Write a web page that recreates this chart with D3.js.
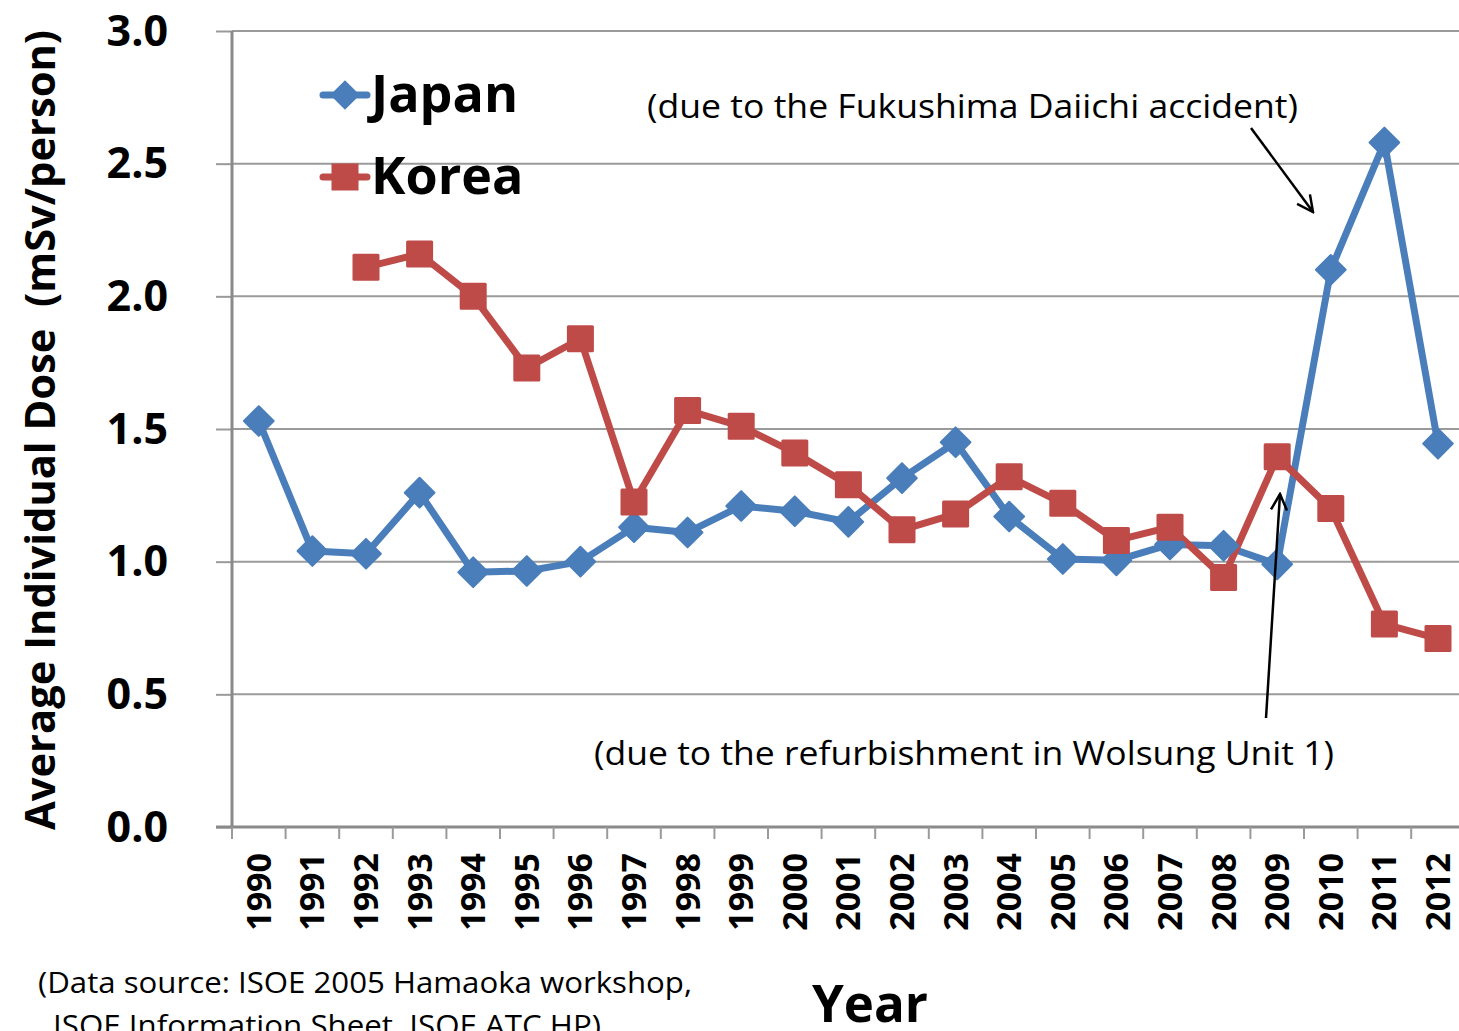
<!DOCTYPE html>
<html><head><meta charset="utf-8">
<script src="https://cdn.jsdelivr.net/npm/d3@7"></script>
<style>body{margin:0;background:#fff}svg{display:block}</style>
</head><body>
<svg id="c" width="1459" height="1031"></svg>
<script>
const years = ["1990","1991","1992","1993","1994","1995","1996","1997","1998","1999","2000","2001","2002","2003","2004","2005","2006","2007","2008","2009","2010","2011","2012"];
const japan = [1.53,1.04,1.03,1.26,0.96,0.965,1.0,1.13,1.11,1.21,1.19,1.15,1.315,1.45,1.17,1.01,1.005,1.065,1.06,0.99,2.10,2.58,1.445];
const korea = [null,null,2.11,2.16,2.00,1.73,1.84,1.225,1.57,1.51,1.41,1.29,1.12,1.18,1.32,1.22,1.08,1.13,0.94,1.395,1.20,0.765,0.71];
const yTicks = [0,0.5,1.0,1.5,2.0,2.5,3.0];
const seriesNames = ["Japan","Korea"];
const seriesColors = ["#4a7ebb","#be4b48"];

const FONT = "'Open Sans', sans-serif";
const svg = d3.select("#c");
const x = d3.scaleBand().domain(years).range([232, 232 + 23*53.6]).padding(0);
const y = d3.scaleLinear().domain([0,3]).range([827,31]);
const cx = d => x(d) + x.bandwidth()/2;

// gridlines
svg.append("g").selectAll("line").data(yTicks.filter(t=>t>0)).join("line")
  .attr("x1",232).attr("x2",1470).attr("y1",d=>y(d)).attr("y2",d=>y(d))
  .attr("stroke","#9a9a9a").attr("stroke-width",2);

// y axis
const ya = svg.append("g").attr("transform","translate(232,0)")
  .call(d3.axisLeft(y).tickValues(yTicks).tickFormat(d3.format(".1f")).tickSize(16).tickPadding(48));
ya.select(".domain").remove();
ya.selectAll(".tick line").attr("stroke","#9a9a9a").attr("stroke-width",2);
ya.selectAll(".tick text").attr("font-family",FONT).attr("font-weight","bold")
  .attr("font-size",43).attr("fill","#000").attr("dy","0.33em");
svg.append("line").attr("x1",232).attr("x2",232).attr("y1",31).attr("y2",828)
  .attr("stroke","#8a8a8a").attr("stroke-width",3);

// x axis line and ticks
svg.append("line").attr("x1",216).attr("x2",1470).attr("y1",827).attr("y2",827)
  .attr("stroke","#8a8a8a").attr("stroke-width",3);
const bounds = years.map(d=>x(d)).concat([x(years[years.length-1])+x.bandwidth()]);
svg.append("g").selectAll("line").data(bounds).join("line")
  .attr("x1",d=>d).attr("x2",d=>d).attr("y1",827).attr("y2",839)
  .attr("stroke","#9a9a9a").attr("stroke-width",2);
svg.append("g").selectAll("text").data(years).join("text")
  .attr("transform",d=>`translate(${cx(d)+12},853) rotate(-90)`)
  .attr("text-anchor","end").attr("font-family",FONT).attr("font-weight","bold")
  .attr("font-size",34).text(d=>d);

// lines
const line = d3.line().defined(d=>d.v!=null).x(d=>cx(d.year)).y(d=>y(d.v));
const data = [japan, korea].map(arr => years.map((yr,i)=>({year:yr, v:arr[i]})));
data.forEach((s,i)=>{
  svg.append("path").datum(s).attr("d",line).attr("fill","none")
    .attr("stroke",seriesColors[i]).attr("stroke-width",7).attr("stroke-linejoin","round");
});
// japan diamonds
svg.append("g").selectAll("path").data(data[0].filter(d=>d.v!=null)).join("path")
  .attr("transform",d=>`translate(${cx(d.year)},${y(d.v)}) rotate(45)`)
  .attr("d","M-10.5,-10.5H10.5V10.5H-10.5Z").attr("fill",seriesColors[0])
  .attr("stroke",seriesColors[0]).attr("stroke-width",2).attr("stroke-linejoin","round");
// korea squares
svg.append("g").selectAll("rect").data(data[1].filter(d=>d.v!=null)).join("rect")
  .attr("x",d=>cx(d.year)-13.5).attr("y",d=>y(d.v)-13.5).attr("width",27).attr("height",27)
  .attr("rx",1.5).attr("fill",seriesColors[1]);

// legend
const leg = svg.append("g");
[95,177].forEach((ly,i)=>{
  leg.append("line").attr("x1",323).attr("x2",367).attr("y1",ly).attr("y2",ly)
    .attr("stroke",seriesColors[i]).attr("stroke-width",7).attr("stroke-linecap","round");
  if(i===0){
    leg.append("path").attr("transform",`translate(345,${ly}) rotate(45)`)
      .attr("d","M-10.5,-10.5H10.5V10.5H-10.5Z").attr("fill",seriesColors[0]);
  } else {
    leg.append("rect").attr("x",331.5).attr("y",ly-13.5).attr("width",27).attr("height",27).attr("fill",seriesColors[1]);
  }
  leg.append("text").attr("x",371).attr("y",ly+17).attr("font-family",FONT).attr("font-weight","bold")
    .attr("font-size",52).text(seriesNames[i]);
});

// annotations
svg.append("defs").append("marker").attr("id","ah").attr("viewBox","0 0 20 20").attr("refX",18).attr("refY",10)
  .attr("markerWidth",20).attr("markerHeight",20).attr("markerUnits","userSpaceOnUse").attr("orient","auto")
  .append("path").attr("d","M2,2 L18,10 L2,18").attr("fill","none").attr("stroke","#000").attr("stroke-width",2.5);
svg.append("line").attr("x1",1251).attr("y1",128).attr("x2",1313).attr("y2",212)
  .attr("stroke","#000").attr("stroke-width",2.5).attr("marker-end","url(#ah)");
svg.append("line").attr("x1",1266).attr("y1",718).attr("x2",1280).attr("y2",494)
  .attr("stroke","#000").attr("stroke-width",2.5).attr("marker-end","url(#ah)");
svg.append("text").attr("x",647).attr("y",118).attr("font-family",FONT).attr("font-size",33)
  .attr("textLength",651).attr("lengthAdjust","spacingAndGlyphs").text("(due to the Fukushima Daiichi accident)");
svg.append("text").attr("x",594).attr("y",765).attr("font-family",FONT).attr("font-size",33)
  .attr("textLength",740).attr("lengthAdjust","spacingAndGlyphs").text("(due to the refurbishment in Wolsung Unit 1)");

// axis titles
svg.append("text").attr("transform","translate(55,430) rotate(-90)").attr("text-anchor","middle")
  .attr("font-family",FONT).attr("font-weight","bold").attr("font-size",42)
  .style("white-space","pre")
  .attr("textLength",800).attr("lengthAdjust","spacingAndGlyphs")
  .text("Average Individual Dose  (mSv/person)");
svg.append("text").attr("x",870).attr("y",1022).attr("text-anchor","middle")
  .attr("font-family",FONT).attr("font-weight","bold").attr("font-size",52)
  .attr("textLength",116).attr("lengthAdjust","spacingAndGlyphs").text("Year");

// source
svg.append("text").attr("x",38).attr("y",993).attr("font-family",FONT).attr("font-size",30)
  .attr("textLength",654).attr("lengthAdjust","spacingAndGlyphs").text("(Data source: ISOE 2005 Hamaoka workshop,");
svg.append("text").attr("x",53).attr("y",1036).attr("font-family",FONT).attr("font-size",30)
  .attr("textLength",548).attr("lengthAdjust","spacingAndGlyphs").text("ISOE Information Sheet, ISOE ATC HP)");
</script>
</body></html>
